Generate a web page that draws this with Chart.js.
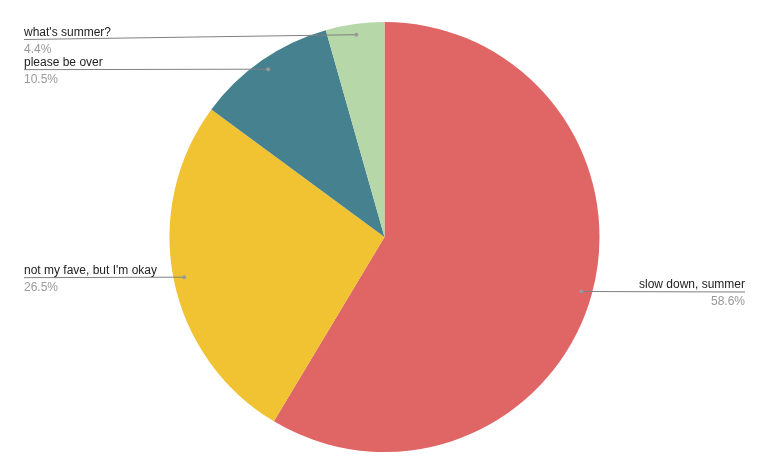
<!DOCTYPE html>
<html lang="en">
<head>
    <meta charset="UTF-8">
    <title>Summer pie</title>
    <script src="https://cdn.jsdelivr.net/npm/chart.js"></script>
    <style>
        html, body { margin: 0; padding: 0; background: #fff; }
        #wrap { width: 769px; height: 476px; }
    </style>
</head>
<body>
    <div id="wrap"><canvas id="pie"></canvas></div>
    <script>
        const labels = ['slow down, summer', "not my fave, but I'm okay", 'please be over', "what's summer?"];
        const values = [58.6, 26.5, 10.5, 4.4];
        const colors = ['#E06666', '#F1C232', '#45818E', '#B6D7A8'];

        // leader lines + labels, google-charts style
        const leaderLabels = {
            id: 'leaderLabels',
            afterDraw(chart) {
                const ctx = chart.ctx;
                const arcs = chart.getDatasetMeta(0).data;
                const total = values.reduce((a, b) => a + b, 0);
                ctx.save();
                arcs.forEach((arc, i) => {
                    const p = arc.getProps(['x', 'y', 'startAngle', 'endAngle', 'outerRadius'], true);
                    const mid = (p.startAngle + p.endAngle) / 2;
                    const dx = p.x + Math.cos(mid) * p.outerRadius * 0.95;
                    const dy = p.y + Math.sin(mid) * p.outerRadius * 0.95;
                    const left = Math.cos(mid) < 0;
                    const ly = Math.max(dy + 0.5, 39.5);
                    const edge = left ? 24 : 745;

                    ctx.strokeStyle = '#808080';
                    ctx.lineWidth = 1;
                    ctx.beginPath();
                    ctx.moveTo(dx, dy);
                    ctx.lineTo(edge, ly);
                    ctx.stroke();

                    ctx.fillStyle = '#999';
                    ctx.beginPath();
                    ctx.arc(dx, dy, 2, 0, Math.PI * 2);
                    ctx.fill();

                    ctx.textAlign = left ? 'left' : 'right';
                    ctx.font = '12px Arial, "Liberation Sans", sans-serif';
                    ctx.textBaseline = 'alphabetic';
                    ctx.fillStyle = '#222';
                    ctx.fillText(labels[i], edge, ly - 4);
                    ctx.fillStyle = '#999';
                    ctx.fillText((values[i] / total * 100).toFixed(1) + '%', edge, ly + 13);
                });
                ctx.restore();
            }
        };

        new Chart(document.getElementById('pie'), {
            type: 'pie',
            data: {
                labels: labels,
                datasets: [{
                    data: values,
                    backgroundColor: colors,
                    borderWidth: 0
                }]
            },
            options: {
                responsive: true,
                maintainAspectRatio: false,
                animation: false,
                layout: { padding: { top: 22, bottom: 24 } },
                plugins: {
                    legend: { display: false },
                    tooltip: { enabled: false }
                }
            },
            plugins: [leaderLabels]
        });
    </script>
</body>
</html>
